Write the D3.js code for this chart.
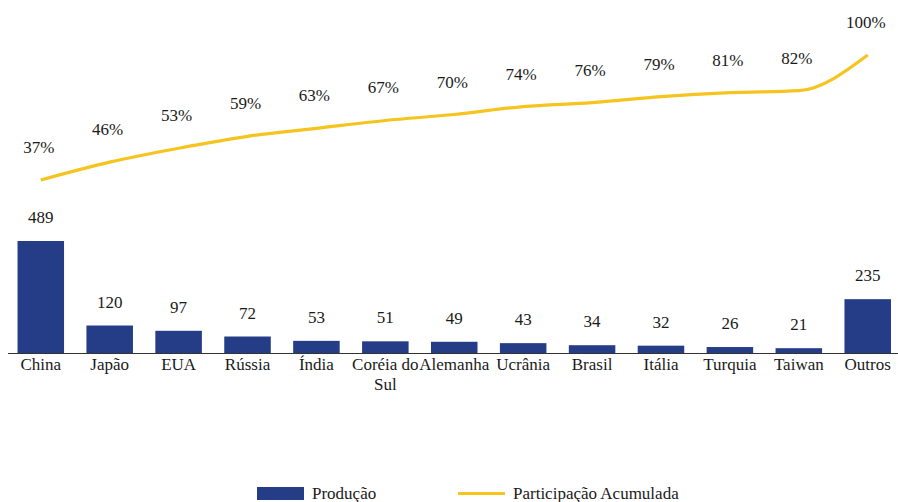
<!DOCTYPE html>
<html>
<head>
<meta charset="utf-8">
<script src="https://cdn.jsdelivr.net/npm/d3@7"></script>
<style>
  html, body { margin: 0; padding: 0; background: #ffffff; }
  svg { display: block; }
</style>
</head>
<body>
<svg id="chart" width="898" height="502"></svg>
<script>
const categories = ["China", "Japão", "EUA", "Rússia", "Índia", "Coréia do Sul", "Alemanha", "Ucrânia", "Brasil", "Itália", "Turquia", "Taiwan", "Outros"];
const production = [489, 120, 97, 72, 53, 51, 49, 43, 34, 32, 26, 21, 235];
const cumulativeShare = [37, 46, 53, 59, 63, 67, 70, 74, 76, 79, 81, 82, 100];
const legendLabels = ["Produção", "Participação Acumulada"];

const barColor = "#253c87";
const lineColor = "#f5c41e";
const FONT = "'Liberation Serif', 'Times New Roman', serif";
const FS = 17;
const textColor = "#1a1a1a";

const svg = d3.select("#chart");

const x = d3.scaleBand().domain(categories).range([6.5, 902]).paddingInner(0.325).paddingOuter(0.16);
const yBar = d3.scaleLinear().domain([0, 489]).range([353, 241]);
const yLine = d3.scaleLinear().domain([37, 100]).range([180, 55]);

function styleText(sel) {
  return sel.style("font-family", FONT).attr("font-size", FS).attr("fill", textColor);
}

// bars
svg.append("g").selectAll("rect")
  .data(production)
  .join("rect")
  .attr("x", (d, i) => x(categories[i]))
  .attr("y", d => yBar(d))
  .attr("width", x.bandwidth())
  .attr("height", d => yBar(0) - yBar(d))
  .attr("fill", barColor);

// bar value labels
svg.append("g").selectAll("text")
  .data(production)
  .join("text")
  .attr("x", (d, i) => x(categories[i]) + x.bandwidth() / 2)
  .attr("y", d => yBar(d) - 18)
  .attr("text-anchor", "middle")
  .call(styleText)
  .text(d => d);

// x axis
const xAxis = d3.axisBottom(x).tickSize(0).tickPadding(0);
const gx = svg.append("g").attr("transform", "translate(0,353)").call(xAxis);
gx.select(".domain").attr("stroke", "#333").attr("stroke-width", 1).attr("d", "M8,0.5H898");
gx.selectAll(".tick text").remove();
gx.selectAll(".tick").each(function(d) {
  const t = d3.select(this).append("text")
    .attr("text-anchor", "middle")
    .call(styleText);
  const words = d === "Coréia do Sul" ? ["Coréia do", "Sul"] : [d];
  words.forEach((w, k) => t.append("tspan").attr("x", 0).attr("y", 17 + k * 20).text(w));
});

// cumulative line
const line = d3.line()
  .x((d, i) => x(categories[i]) + x.bandwidth() / 2)
  .y(d => yLine(d))
  .curve(d3.curveMonotoneX);

svg.append("path")
  .datum(cumulativeShare)
  .attr("d", line)
  .attr("fill", "none")
  .attr("stroke", lineColor)
  .attr("stroke-width", 3.2);

// line labels
svg.append("g").selectAll("text")
  .data(cumulativeShare)
  .join("text")
  .attr("x", (d, i) => x(categories[i]) + x.bandwidth() / 2 - 2)
  .attr("y", d => yLine(d) - 27)
  .attr("text-anchor", "middle")
  .call(styleText)
  .text(d => d + "%");

// legend
const lg = svg.append("g");
lg.append("rect").attr("x", 257).attr("y", 487).attr("width", 47).attr("height", 13).attr("fill", barColor);
lg.append("text").attr("x", 312).attr("y", 499).call(styleText).text(legendLabels[0]);
lg.append("line").attr("x1", 458).attr("x2", 505).attr("y1", 493.5).attr("y2", 493.5)
  .attr("stroke", lineColor).attr("stroke-width", 3.2);
lg.append("text").attr("x", 513).attr("y", 499).call(styleText).text(legendLabels[1]);
</script>
</body>
</html>
